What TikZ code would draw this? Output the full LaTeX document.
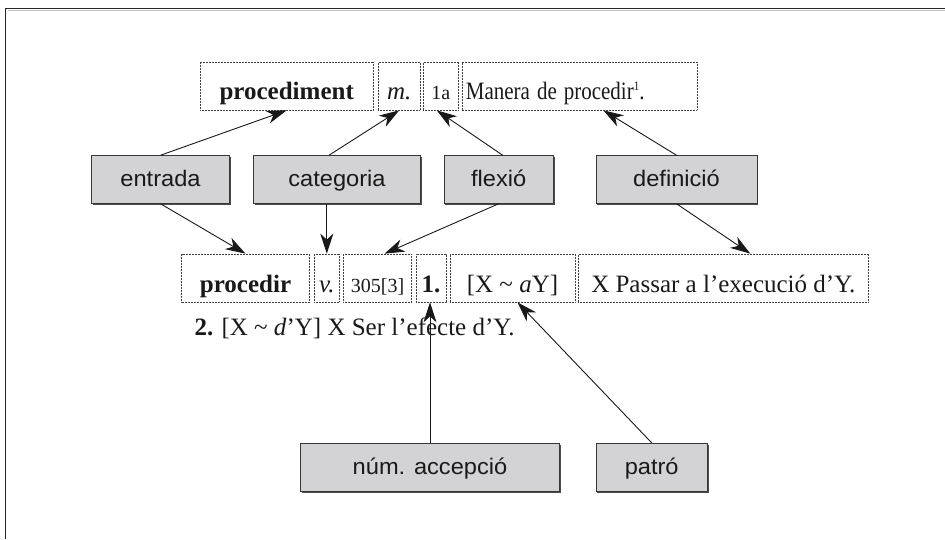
\documentclass[tikz,border=0pt]{standalone}
\usepackage{fontspec}
\setmainfont{Liberation Serif}
\newfontfamily\lblfont[FakeStretch=1.05]{Liberation Sans}
\usetikzlibrary{arrows.meta}
\definecolor{boxgray}{RGB}{211,211,213}
\definecolor{edgegray}{RGB}{55,55,55}
\definecolor{ink}{RGB}{25,25,25}
\newcommand\mainsz{\fontsize{25}{28}\selectfont}
\newcommand\smallsz{\fontsize{20}{22}\selectfont}
\newcommand\supone{\raisebox{9pt}{\fontsize{13}{13}\selectfont 1}}
\tikzset{
  lbl/.style={draw=edgegray, line width=0.9pt, fill=boxgray, text=ink,
    font=\lblfont\fontsize{22.5}{24}\selectfont, inner sep=0pt,
    minimum height=47.6pt, text height=13pt, text depth=0pt,
    preaction={fill=black!70, transform canvas={xshift=1.3pt, yshift=-1.3pt}}},
  dbox/.style={draw=black!75, line width=0.7pt, dash pattern=on 0.6pt off 0.9pt,
    inner sep=0pt, minimum height=48pt, text=ink, font=\mainsz},
  rowone/.style={dbox, text height=26pt, text depth=0pt},
  rowtwo/.style={dbox, text height=29pt, text depth=0pt},
  arr/.style={-{Stealth[length=20pt,width=13pt,inset=6pt]}, line width=0.9pt, black!90},
}
\begin{document}
\begin{tikzpicture}[x=1pt,y=-1pt]
\useasboundingbox (0,0) rectangle (945,539);
% frame
\draw[black!85, line width=1.3pt] (945,8.5) -- (5.5,8.5) -- (5.5,539);
\draw[black!25, line width=0.8pt] (945,10.5) -- (7.5,10.5);

% label boxes
\node[lbl, minimum width=137.6pt] (entrada) at (160.5,179.5) {entrada};
\node[lbl, minimum width=167.4pt] (categoria) at (337,179.5) {categoria};
\node[lbl, minimum width=109.3pt] (flexio) at (498.7,179.5) {flexió};
\node[lbl, minimum width=161pt] (definicio) at (676.5,179.5) {definició};
\node[lbl, minimum width=258.6pt, minimum height=48.4pt] (numacc) at (430,467.5) {núm. accepció};
\node[lbl, minimum width=111.3pt, minimum height=48.4pt] (patro) at (651.7,467.5) {patró};

% row 1
\node[rowone, minimum width=173.3pt] (procediment) at (286.7,86) {\bfseries procediment};
\node[rowone, minimum width=41.7pt] (m) at (399.2,86) {\itshape m.};
\node[rowone, minimum width=35pt] (onea) at (440.8,86) {\smallsz 1a};
\node[rowone, text width=227pt, inner xsep=4pt, align=left] (manera) at (579.4,86) {\scalebox{0.84}[1]{Manera de procedir\supone.}};

% row 2
\node[rowtwo, minimum width=127.6pt] (procedir) at (245.5,278) {\bfseries procedir};
\node[rowtwo, minimum width=25pt] (v) at (326.8,278) {\itshape v.};
\node[rowtwo, minimum width=68.4pt] (n305) at (377.5,278) {\smallsz 305[3]};
\node[rowtwo, minimum width=30pt] (one) at (431,278) {\bfseries 1.};
\node[rowtwo, minimum width=125pt] (pat) at (512.5,278) {[X \textasciitilde{} \textit{a}Y]};
\node[rowtwo, minimum width=290pt] (passar) at (723.3,278) {X Passar a l’execució d’Y.};

% second sense
\node[anchor=base west, inner sep=0pt, font=\mainsz, text=ink] (sense2) at (194.3,335)
  {\textbf{2.} [X \textasciitilde{} \textit{d}’Y] X Ser l’efecte d’Y.};

% arrows
\draw[arr] (entrada.north) -- (procediment.south);
\draw[arr] ([xshift=-8pt]categoria.north) -- (m.south);
\draw[arr] ([xshift=4pt]flexio.north) -- ([xshift=-4pt]onea.south);
\draw[arr] (definicio.north) -- ([xshift=24pt]manera.south);
\draw[arr] (entrada.south) -- (procedir.north);
\draw[arr] (categoria.south -| v.north) -- (v.north);
\draw[arr] (flexio.south) -- ([xshift=7pt]n305.north);
\draw[arr] (definicio.south) -- ([xshift=27pt]passar.north);
\draw[arr] (numacc.north) -- (numacc.north |- one.south);
\draw[arr] (patro.north) -- ([xshift=5pt]pat.south);
\end{tikzpicture}
\end{document}
